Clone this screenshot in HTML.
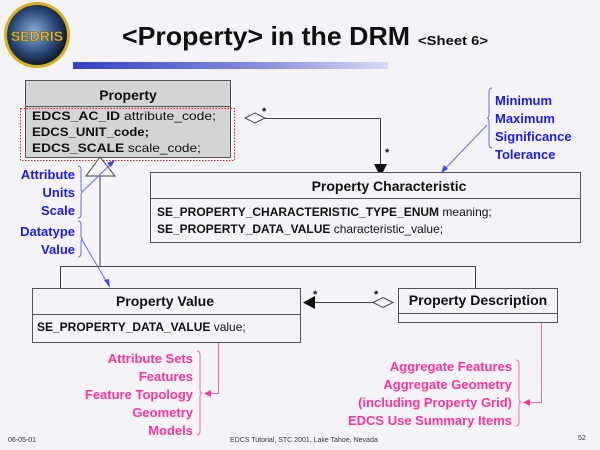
<!DOCTYPE html>
<html><head><meta charset="utf-8"><style>
html,body{margin:0;padding:0;background:#f4f4f8}
svg{display:block}
text{font-family:"Liberation Sans",Arial,sans-serif}
</style></head><body>
<svg width="600" height="450" viewBox="0 0 600 450" xmlns="http://www.w3.org/2000/svg">
<defs>
<linearGradient id="bar" x1="0" x2="1" y1="0" y2="0">
<stop offset="0" stop-color="#3040c8"/><stop offset="0.6" stop-color="#8890dd"/><stop offset="1" stop-color="#d8daf4"/>
</linearGradient>
<radialGradient id="globe" cx="0.45" cy="0.45" r="0.6">
<stop offset="0" stop-color="#8fb0d8"/><stop offset="0.6" stop-color="#2a4a7a"/><stop offset="1" stop-color="#0a1020"/>
</radialGradient>
</defs>
<rect width="600" height="450" fill="#f4f4f8"/>
<!-- logo -->
<circle cx="37" cy="35" r="33" fill="#d8b020"/>
<circle cx="37" cy="35" r="30" fill="url(#globe)"/>
<text x="37" y="41" text-anchor="middle" font-family="Liberation Serif" font-size="14" font-weight="bold" fill="#e8c040" stroke="#6a5010" stroke-width="0.5">SEDRIS</text>
<!-- title -->
<text x="122" y="45" font-size="26" font-weight="bold" fill="#111" textLength="288" lengthAdjust="spacingAndGlyphs">&lt;Property&gt; in the DRM</text>
<text x="418" y="45" font-size="13" font-weight="bold" fill="#111" textLength="70" lengthAdjust="spacingAndGlyphs">&lt;Sheet 6&gt;</text>
<rect x="73" y="62" width="315" height="7" fill="url(#bar)"/>
<!-- Property box -->
<rect x="25.5" y="80.5" width="205" height="77" fill="#d4d4d4" stroke="#555"/>
<line x1="25" y1="106.5" x2="231" y2="106.5" stroke="#555"/>
<text x="128" y="100" text-anchor="middle" font-size="14" font-weight="bold" fill="#111">Property</text>
<g font-size="12" fill="#111">
<text x="32" y="120" textLength="184" lengthAdjust="spacingAndGlyphs"><tspan font-weight="bold">EDCS_AC_ID</tspan> attribute_code;</text>
<text x="32" y="136" textLength="117" lengthAdjust="spacingAndGlyphs"><tspan font-weight="bold">EDCS_UNIT_code;</tspan></text>
<text x="32" y="152" textLength="169" lengthAdjust="spacingAndGlyphs"><tspan font-weight="bold">EDCS_SCALE</tspan> scale_code;</text>
</g>
<rect x="20.5" y="108.5" width="214" height="52" fill="none" stroke="#e02020" stroke-dasharray="1.5,1.5"/>
<!-- inheritance -->
<polygon points="100,157 86,176 115,176" fill="#f4f4f8" stroke="#444"/>
<g stroke="#444" fill="none">
<line x1="100" y1="176" x2="100" y2="266.5"/>
<polyline points="60.5,288 60.5,266.5 475.5,266.5 475.5,288"/>
<polygon points="245,118 255,113 265,118 255,123" fill="#f4f4f8"/>
<polyline points="265,118.5 380.5,118.5 380.5,166"/>
<line x1="314" y1="302.5" x2="373" y2="302.5"/>
<polygon points="373,302.5 383,297.5 393,302.5 383,307.5" fill="#f4f4f8"/>
</g>
<polygon points="374,164 387,164 380.5,177" fill="#111"/>
<polygon points="303,302.5 315,296 315,309" fill="#111"/>
<g font-size="11" font-weight="bold" fill="#111">
<text x="262" y="115">*</text><text x="385" y="156">*</text>
<text x="313" y="298">*</text><text x="374" y="298">*</text>
</g>
<!-- Property Characteristic -->
<rect x="150.5" y="172.5" width="430" height="70" fill="#f4f4f8" stroke="#555"/>
<line x1="150" y1="198.5" x2="581" y2="198.5" stroke="#555"/>
<text x="389" y="191" text-anchor="middle" font-size="14" font-weight="bold" fill="#111">Property Characteristic</text>
<g font-size="12" fill="#111">
<text x="157" y="216"><tspan font-weight="bold">SE_PROPERTY_CHARACTERISTIC_TYPE_ENUM</tspan> meaning;</text>
<text x="157" y="233"><tspan font-weight="bold">SE_PROPERTY_DATA_VALUE</tspan> characteristic_value;</text>
</g>
<!-- Property Value -->
<rect x="32.5" y="288.5" width="268" height="54" fill="#f4f4f8" stroke="#555"/>
<line x1="32" y1="314.5" x2="301" y2="314.5" stroke="#555"/>
<text x="165" y="306" text-anchor="middle" font-size="14" font-weight="bold" fill="#111">Property Value</text>
<text x="37" y="331" font-size="12" fill="#111"><tspan font-weight="bold">SE_PROPERTY_DATA_VALUE</tspan> value;</text>
<!-- Property Description -->
<rect x="398.5" y="288.5" width="159" height="34" fill="#f4f4f8" stroke="#555"/>
<line x1="398" y1="313.5" x2="558" y2="313.5" stroke="#555"/>
<text x="478" y="305" text-anchor="middle" font-size="14" font-weight="bold" fill="#111">Property Description</text>
<!-- blue labels -->
<g font-size="13" font-weight="bold" fill="#1a1ae8" text-anchor="end">
<text x="75" y="179">Attribute</text><text x="75" y="197">Units</text><text x="75" y="215">Scale</text>
<text x="75" y="236">Datatype</text><text x="75" y="254">Value</text>
</g>
<g font-size="13" font-weight="bold" fill="#1a1ae8">
<text x="495" y="105">Minimum</text><text x="495" y="123">Maximum</text><text x="495" y="141">Significance</text><text x="495" y="159">Tolerance</text>
</g>
<g stroke="#6a6ae8" fill="none" stroke-width="1">
<path d="M78,166 q3,0 3,4 v18 q0,4 2,4 q-2,0 -2,4 v18 q0,4 -3,4"/>
<path d="M78,221 q3,0 3,4 v10 q0,4 2,4 q-2,0 -2,4 v10 q0,4 -3,4"/>
<path d="M492,88 q-3,0 -3,4 v22 q0,4 -2,4 q2,0 2,4 v22 q0,4 3,4"/>
<line x1="82" y1="192" x2="113" y2="162"/>
<line x1="82" y1="240" x2="108" y2="284"/>
<line x1="487" y1="125" x2="444" y2="170"/>
</g>
<g fill="#4444dd">
<polygon points="115,160 107,163 111,167"/>
<polygon points="110,288 104,280 109,279"/>
<polygon points="441,173 444,165 448,169"/>
</g>
<!-- pink labels -->
<g font-size="13" font-weight="bold" fill="#ff3399" text-anchor="end">
<text x="193" y="363">Attribute Sets</text><text x="193" y="381">Features</text><text x="193" y="399">Feature Topology</text><text x="193" y="417">Geometry</text><text x="193" y="435">Models</text>
<text x="512" y="371">Aggregate Features</text><text x="512" y="389">Aggregate Geometry</text><text x="512" y="407">(including Property Grid)</text><text x="512" y="425">EDCS Use Summary Items</text>
</g>
<g stroke="#ff66aa" fill="none">
<path d="M197,351 q3,0 3,4 v34 q0,4 2,4 q-2,0 -2,4 v34 q0,4 -3,4"/>
<path d="M516,360 q3,0 3,4 v34 q0,4 2,4 q-2,0 -2,4 v16 q0,4 -3,4"/>
<polyline points="218.5,343 218.5,393.5 208,393.5"/>
<polyline points="541.5,323 541.5,402.5 527,402.5"/>
</g>
<polygon points="204,393.5 211,390 211,397" fill="#ff3399"/>
<polygon points="523,402.5 530,399 530,406" fill="#ff3399"/>
<!-- footer -->
<g font-size="7" fill="#333">
<text x="8" y="442">06-05-01</text>
<text x="230" y="442">EDCS Tutorial, STC 2001, Lake Tahoe, Nevada</text>
<text x="578" y="440">52</text>
</g>
</svg>
</body></html>
